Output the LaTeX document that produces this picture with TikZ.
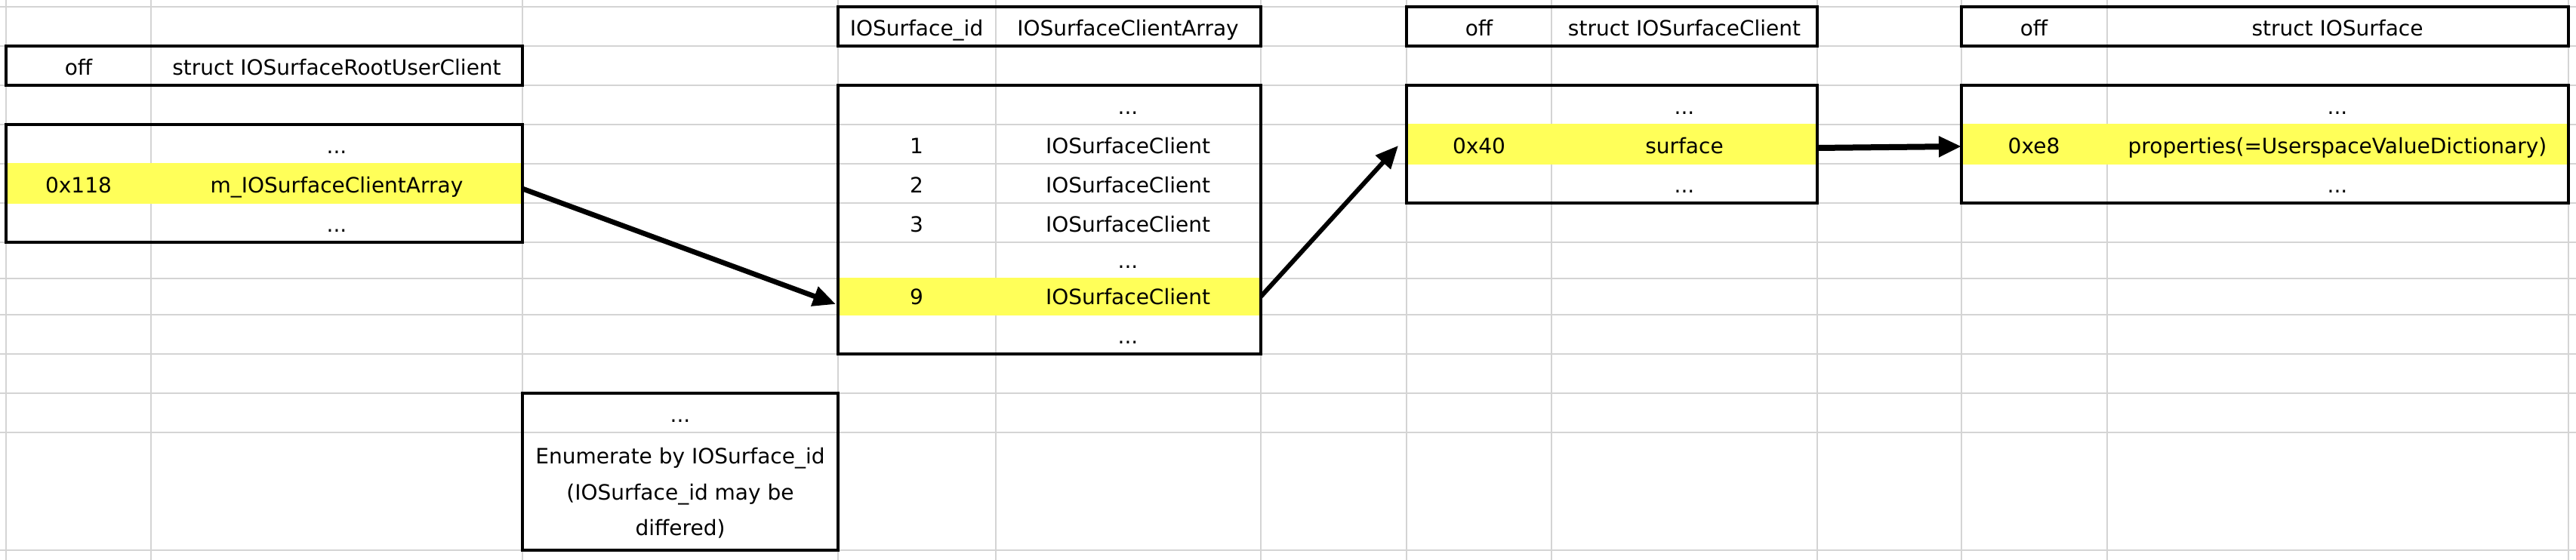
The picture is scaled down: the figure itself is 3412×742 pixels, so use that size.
\documentclass[tikz,border=0pt]{standalone}
\usepackage{fontspec}
\setmainfont{DejaVu Sans}
\usetikzlibrary{arrows.meta}
\definecolor{cellyellow}{RGB}{255,255,89}
\definecolor{gridgray}{RGB}{212,212,212}
\begin{document}
\begin{tikzpicture}[x=0.5pt,y=-0.5pt,
  gridline/.style={draw=gridgray,line width=0.75pt},
  boxline/.style={draw=black,line width=1.7pt},
  yrow/.style={fill=cellyellow,draw=none,inner sep=0pt,outer sep=0pt,minimum height=27pt},
  txt/.style={anchor=base,inner sep=0pt,outer sep=0pt,font=\fontsize{14pt}{16pt}\selectfont},
  ptr/.style={-{Triangle[length=15pt,width=13pt]},line width=3.4pt}]
\fill[white] (0,0) rectangle (3412,742);
\useasboundingbox (0,0) rectangle (3412,742);
% spreadsheet grid
\foreach \gx in {8,200,692,1110,1319,1670,1863,2055,2407,2598,2791,3402}
  \draw[gridline] (\gx,0) -- (\gx,742);
\foreach \gy in {9,61,113,165,217,269,321,369,417,469,521,573,729}
  \draw[gridline] (0,\gy) -- (3412,\gy);
% highlighted rows
\node[yrow,minimum width=342pt] (y1) at (350,243) {};
\node[yrow,minimum width=280pt,minimum height=25pt] (y2) at (1390,393) {};
\node[yrow,minimum width=272pt] (y3) at (2135,191) {};
\node[yrow,minimum width=402pt] (y4) at (3000,191) {};
% boxes
\draw[boxline] (8,61) rectangle (692,113);
\draw[boxline] (8,165) rectangle (692,321);
\draw[boxline] (1110,9) rectangle (1670,61);
\draw[boxline] (1110,113) rectangle (1670,469);
\draw[boxline] (1863,9) rectangle (2407,61);
\draw[boxline] (1863,113) rectangle (2407,269);
\draw[boxline] (2598,9) rectangle (3402,61);
\draw[boxline] (2598,113) rectangle (3402,269);
\draw[boxline] (692,521) rectangle (1110,729);
% texts: IOSurfaceRootUserClient
\node[txt] (a1) at (104,100) {off};
\node[txt] (a2) at (446,100) {struct IOSurfaceRootUserClient};
\node[txt] (a3) at (446,204) {...};
\node[txt] (a4) at (104,256) {0x118};
\node[txt] (a5) at (446,256) {m\_IOSurfaceClientArray};
\node[txt] (a6) at (446,308) {...};
% IOSurfaceClientArray
\node[txt] (b1) at (1214,48) {IOSurface\_id};
\node[txt] (b2) at (1494,48) {IOSurfaceClientArray};
\node[txt] (b3) at (1494,152) {...};
\node[txt] (b4) at (1214,204) {1};
\node[txt] (b5) at (1494,204) {IOSurfaceClient};
\node[txt] (b6) at (1214,256) {2};
\node[txt] (b7) at (1494,256) {IOSurfaceClient};
\node[txt] (b8) at (1214,308) {3};
\node[txt] (b9) at (1494,308) {IOSurfaceClient};
\node[txt] (b10) at (1494,356) {...};
\node[txt] (b11) at (1214,404) {9};
\node[txt] (b12) at (1494,404) {IOSurfaceClient};
\node[txt] (b13) at (1494,456) {...};
% IOSurfaceClient
\node[txt] (c1) at (1959,48) {off};
\node[txt] (c2) at (2231,48) {struct IOSurfaceClient};
\node[txt] (c3) at (2231,152) {...};
\node[txt] (c4) at (1959,204) {0x40};
\node[txt] (c5) at (2231,204) {surface};
\node[txt] (c6) at (2231,256) {...};
% IOSurface
\node[txt] (d1) at (2694,48) {off};
\node[txt] (d2) at (3096,48) {struct IOSurface};
\node[txt] (d3) at (3096,152) {...};
\node[txt] (d4) at (2694,204) {0xe8};
\node[txt] (d5) at (3096,204) {properties(=UserspaceValueDictionary)};
\node[txt] (d6) at (3096,256) {...};
% note
\node[txt] (n1) at (901,560) {...};
\node[txt] (n2) at (901,615) {Enumerate by IOSurface\_id};
\node[txt] (n3) at (901,663) {(IOSurface\_id may be};
\node[txt] (n4) at (901,710) {differed)};
% pointers
\draw[ptr] ([yshift=-3.5pt]y1.east) -- ([xshift=-1.5pt,yshift=-5pt]y2.west);
\draw[ptr,line width=3pt] (y2.east) -- ([xshift=-5.5pt,yshift=-1pt]y3.west);
\draw[ptr,line width=4pt] ([yshift=-2.5pt]y3.east) -- ([yshift=-1.5pt]y4.west);
\end{tikzpicture}
\end{document}
